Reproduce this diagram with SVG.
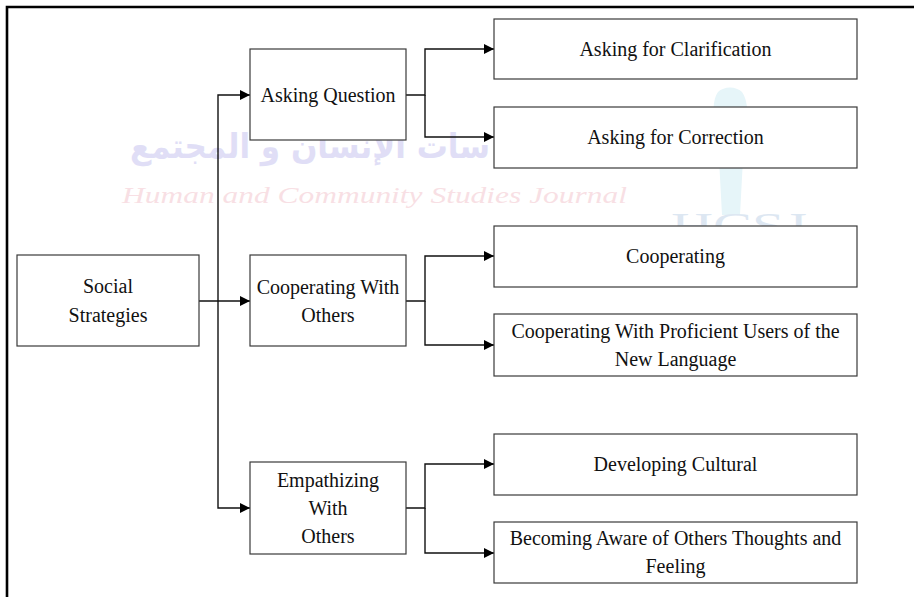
<svg xmlns="http://www.w3.org/2000/svg" width="914" height="597" viewBox="0 0 914 597">
<style>
.box{fill:#fff;stroke:#3a3a3a;stroke-width:1.2}
.lbl{font-family:"Liberation Serif","Times New Roman",serif;font-size:20px;fill:#111;text-anchor:middle}
.con{fill:none;stroke:#111;stroke-width:1.4}
.frame{fill:none;stroke:#000;stroke-width:2.6}
.wm{font-family:"Liberation Serif","Times New Roman",serif}
</style>
<defs>
<marker id="arr" markerUnits="userSpaceOnUse" markerWidth="10" markerHeight="10" refX="10" refY="5" orient="auto">
<path d="M0,0 L10,5 L0,10 z" fill="#000"/>
</marker>
</defs>
<rect width="914" height="597" fill="#fff"/>
<g id="watermark">
<path d="M718,92 C712,100 712,120 718,140 L722,215 L740,215 L744,140 C750,120 748,100 742,92 C736,86 724,86 718,92 z" fill="#e6f5f9"/>
<text x="130" y="158" font-family="'DejaVu Sans',sans-serif" font-weight="bold" font-size="34" fill="#e0def6" textLength="360" lengthAdjust="spacingAndGlyphs">سات الإنسان و المجتمع</text>
<text class="wm" x="122" y="203" font-style="italic" font-size="24" fill="#f8dfe4" textLength="505" lengthAdjust="spacingAndGlyphs">Human and Community Studies Journal</text>
<text class="wm" x="671" y="238" font-size="36" fill="#dde7f2" textLength="136" lengthAdjust="spacingAndGlyphs">HCSJ</text>
</g>
<path class="frame" d="M7,597 V7 H914"/>
<g id="connectors">
<path class="con" d="M199,301 H250" marker-end="url(#arr)"/>
<path class="con" d="M218,301 V95 H250" marker-end="url(#arr)"/>
<path class="con" d="M218,301 V508 H250" marker-end="url(#arr)"/>
<path class="con" d="M406,95 H425 V49 H494" marker-end="url(#arr)"/>
<path class="con" d="M425,95 V137 H494" marker-end="url(#arr)"/>
<path class="con" d="M406,301 H425 V256 H494" marker-end="url(#arr)"/>
<path class="con" d="M425,301 V345 H494" marker-end="url(#arr)"/>
<path class="con" d="M406,508 H425 V464 H494" marker-end="url(#arr)"/>
<path class="con" d="M425,508 V553 H494" marker-end="url(#arr)"/>
</g>
<g id="social-strategies">
<rect class="box" x="17" y="255" width="182" height="91"/>
<text class="lbl" x="108" y="293">Social</text>
<text class="lbl" x="108" y="322">Strategies</text>
</g>
<g id="asking-question">
<rect class="box" x="250" y="49" width="156" height="91"/>
<text class="lbl" x="328" y="102">Asking Question</text>
</g>
<g id="cooperating-with-others">
<rect class="box" x="250" y="255" width="156" height="91"/>
<text class="lbl" x="328" y="294">Cooperating With</text>
<text class="lbl" x="328" y="322">Others</text>
</g>
<g id="empathizing-with-others">
<rect class="box" x="250" y="462" width="156" height="92"/>
<text class="lbl" x="328" y="487">Empathizing</text>
<text class="lbl" x="328" y="515">With</text>
<text class="lbl" x="328" y="543">Others</text>
</g>
<g id="asking-clarification">
<rect class="box" x="494" y="19" width="363" height="60"/>
<text class="lbl" x="675.5" y="56">Asking for Clarification</text>
</g>
<g id="asking-correction">
<rect class="box" x="494" y="107" width="363" height="61"/>
<text class="lbl" x="675.5" y="144">Asking for Correction</text>
</g>
<g id="cooperating">
<rect class="box" x="494" y="226" width="363" height="61"/>
<text class="lbl" x="675.5" y="263">Cooperating</text>
</g>
<g id="cooperating-proficient">
<rect class="box" x="494" y="314" width="363" height="62"/>
<text class="lbl" x="675.5" y="338">Cooperating With Proficient Users of the</text>
<text class="lbl" x="675.5" y="366">New Language</text>
</g>
<g id="developing-cultural">
<rect class="box" x="494" y="434" width="363" height="61"/>
<text class="lbl" x="675.5" y="471">Developing Cultural</text>
</g>
<g id="becoming-aware">
<rect class="box" x="494" y="522" width="363" height="61"/>
<text class="lbl" x="675.5" y="545">Becoming Aware of Others Thoughts and</text>
<text class="lbl" x="675.5" y="573">Feeling</text>
</g>
</svg>
